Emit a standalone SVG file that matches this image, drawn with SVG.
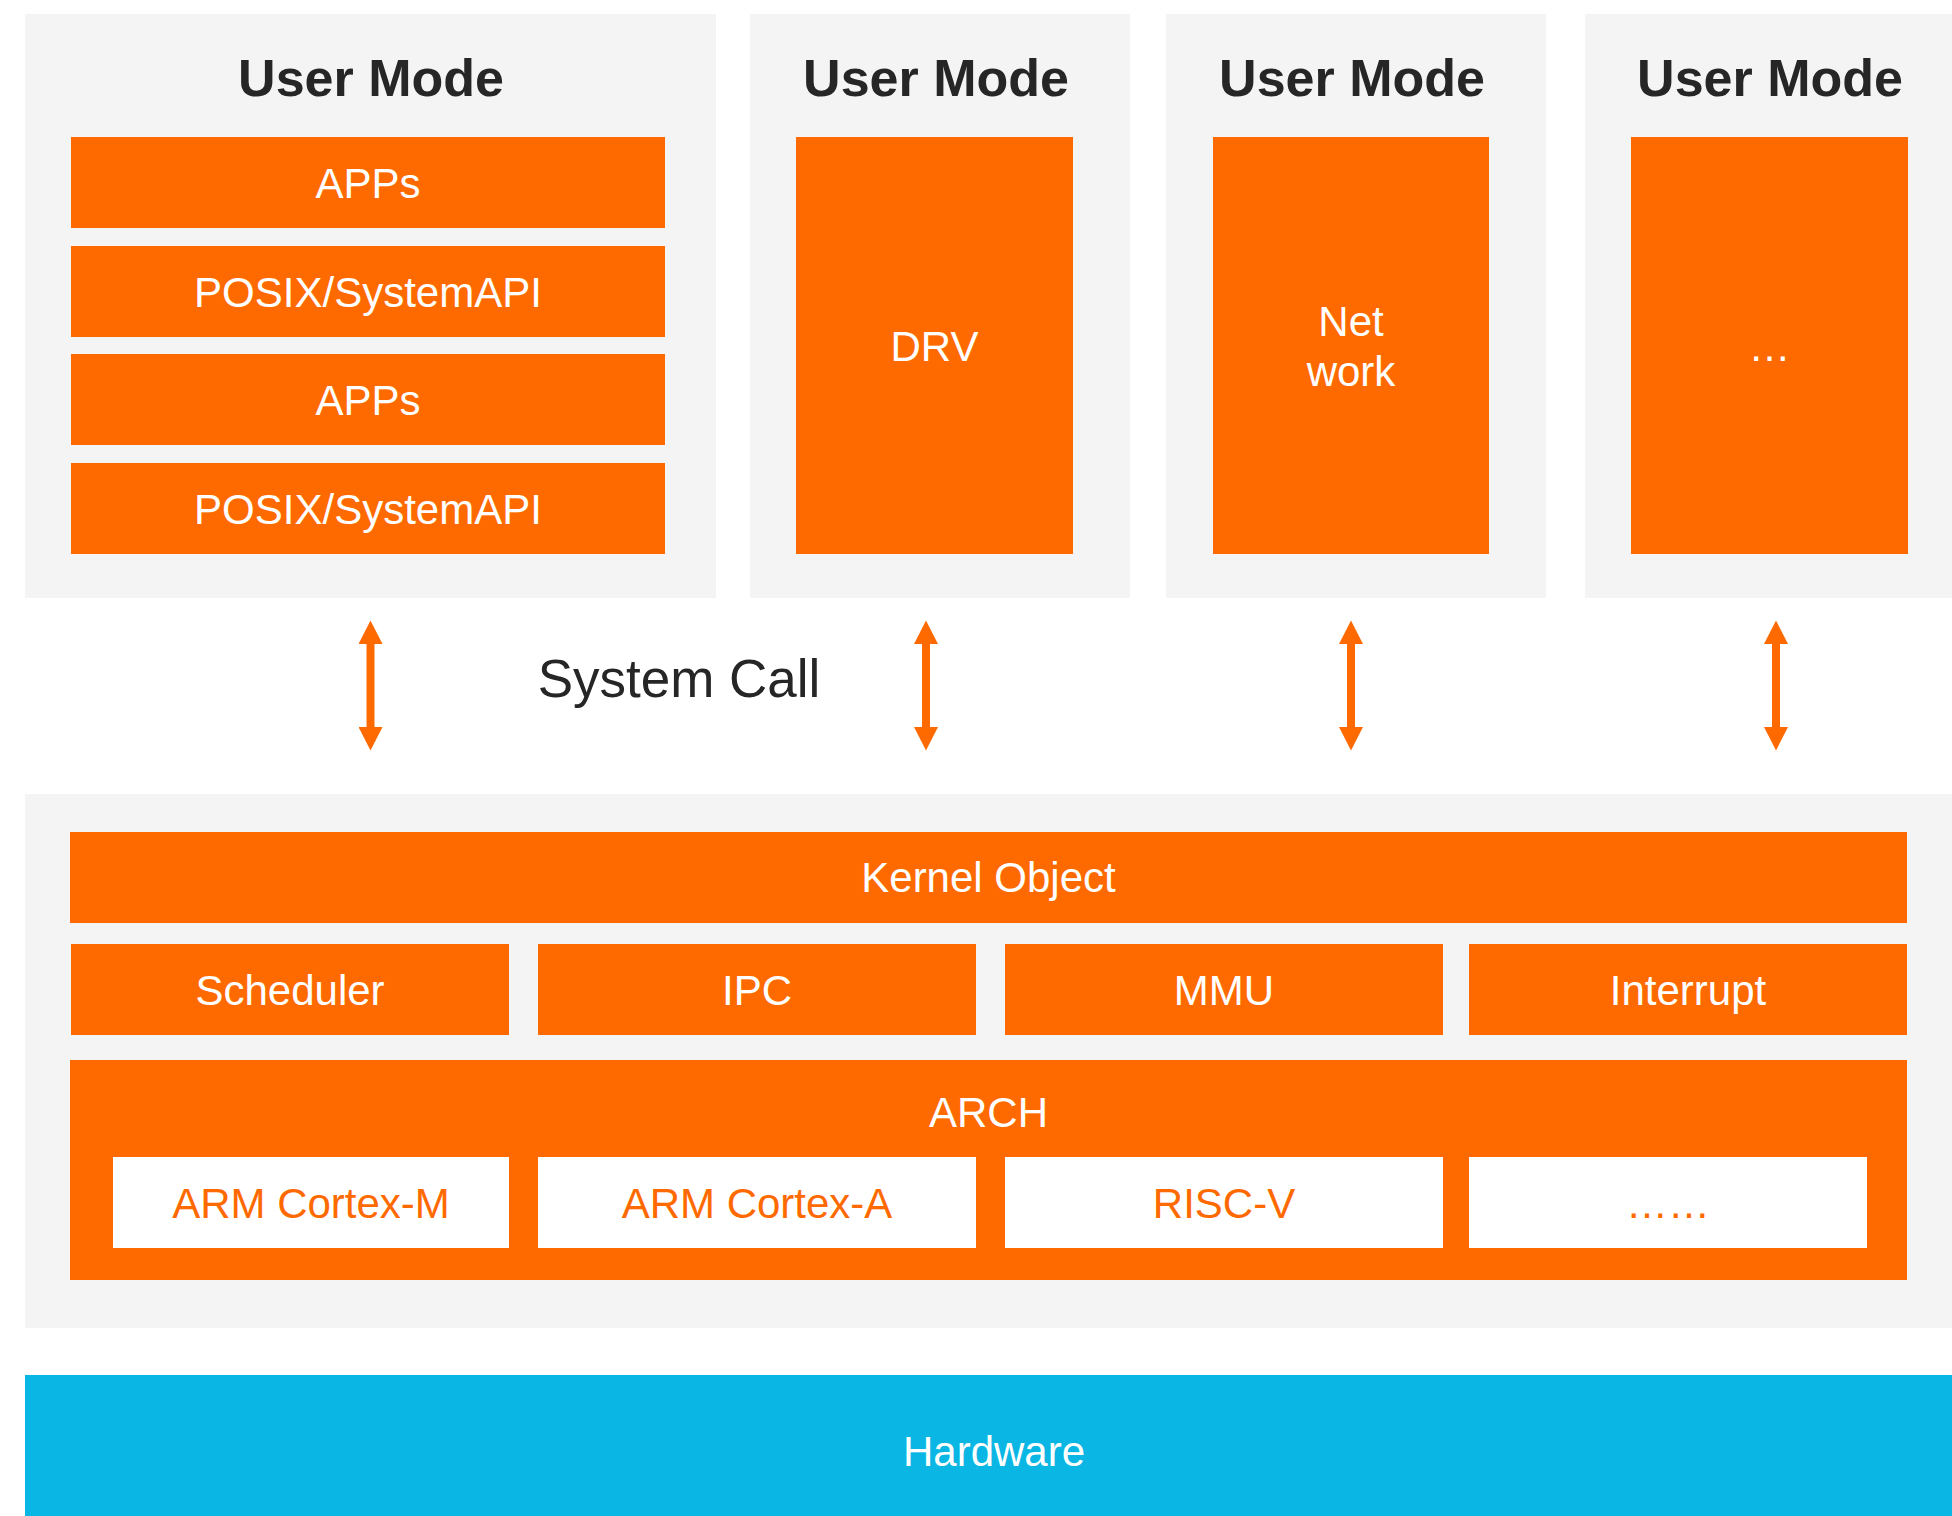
<svg xmlns="http://www.w3.org/2000/svg" width="1952" height="1516" viewBox="0 0 1952 1516">
<defs>
<style>
.panel{fill:#F4F4F4}
.box{fill:#FF6A00}
.wbox{fill:#FFFFFF}
.title{font-family:"Liberation Sans",Arial,sans-serif;font-size:52px;font-weight:bold;fill:#262626;text-anchor:middle}
.lbl{font-family:"Liberation Sans",Arial,sans-serif;font-size:42px;fill:#FFFFFF;text-anchor:middle}
.olbl{font-family:"Liberation Sans",Arial,sans-serif;font-size:42px;fill:#FF6A00;text-anchor:middle}
.dark{font-family:"Liberation Sans",Arial,sans-serif;font-size:53px;fill:#262626;text-anchor:middle}
.conn{stroke:#FF6A00;stroke-width:8;fill:none;marker-start:url(#head);marker-end:url(#head)}
</style>
<marker id="head" markerUnits="userSpaceOnUse" markerWidth="24" markerHeight="24" refX="0" refY="12" orient="auto-start-reverse" viewBox="0 0 24 24">
<path d="M0,0 L23.5,12 L0,24 z" fill="#FF6A00"/>
</marker>
</defs>
<rect width="1952" height="1516" fill="#FFFFFF"/>

<g id="user-mode-1">
<rect class="panel" x="25" y="14" width="691" height="584"/>
<text class="title" x="371" y="96">User Mode</text>
<rect class="box" x="71" y="137" width="594" height="91"/>
<text class="lbl" x="368" y="198">APPs</text>
<rect class="box" x="71" y="246" width="594" height="91"/>
<text class="lbl" x="368" y="307">POSIX/SystemAPI</text>
<rect class="box" x="71" y="354" width="594" height="91"/>
<text class="lbl" x="368" y="415">APPs</text>
<rect class="box" x="71" y="463" width="594" height="91"/>
<text class="lbl" x="368" y="524">POSIX/SystemAPI</text>
</g>

<g id="user-mode-2">
<rect class="panel" x="750" y="14" width="380" height="584"/>
<text class="title" x="936" y="96">User Mode</text>
<rect class="box" x="796" y="137" width="277" height="417"/>
<text class="lbl" x="934.5" y="361">DRV</text>
</g>

<g id="user-mode-3">
<rect class="panel" x="1166" y="14" width="380" height="584"/>
<text class="title" x="1352" y="96">User Mode</text>
<rect class="box" x="1213" y="137" width="276" height="417"/>
<text class="lbl" x="1351" y="336">Net</text>
<text class="lbl" x="1351" y="386">work</text>
</g>

<g id="user-mode-4">
<rect class="panel" x="1585" y="14" width="367" height="584"/>
<text class="title" x="1770" y="96">User Mode</text>
<rect class="box" x="1631" y="137" width="277" height="417"/>
<text class="lbl" x="1769.5" y="361">…</text>
</g>

<g id="system-call-label">
<text class="dark" x="679" y="697">System Call</text>
</g>

<g id="kernel">
<rect class="panel" x="25" y="794" width="1927" height="534"/>
<g id="kernel-object">
<rect class="box" x="70" y="832" width="1837" height="91"/>
<text class="lbl" x="988.5" y="892">Kernel Object</text>
</g>
<g id="scheduler">
<rect class="box" x="71" y="944" width="438" height="91"/>
<text class="lbl" x="290" y="1005">Scheduler</text>
</g>
<g id="ipc">
<rect class="box" x="538" y="944" width="438" height="91"/>
<text class="lbl" x="757" y="1005">IPC</text>
</g>
<g id="mmu">
<rect class="box" x="1005" y="944" width="438" height="91"/>
<text class="lbl" x="1224" y="1005">MMU</text>
</g>
<g id="interrupt">
<rect class="box" x="1469" y="944" width="438" height="91"/>
<text class="lbl" x="1688" y="1005">Interrupt</text>
</g>
<g id="arch">
<rect class="box" x="70" y="1060" width="1837" height="220"/>
<text class="lbl" x="988.5" y="1127">ARCH</text>
<g id="arm-cortex-m">
<rect class="wbox" x="113" y="1157" width="396" height="91"/>
<text class="olbl" x="311" y="1218">ARM Cortex-M</text>
</g>
<g id="arm-cortex-a">
<rect class="wbox" x="538" y="1157" width="438" height="91"/>
<text class="olbl" x="757" y="1218">ARM Cortex-A</text>
</g>
<g id="risc-v">
<rect class="wbox" x="1005" y="1157" width="438" height="91"/>
<text class="olbl" x="1224" y="1218">RISC-V</text>
</g>
<g id="arch-more">
<rect class="wbox" x="1469" y="1157" width="398" height="91"/>
<text class="olbl" x="1668" y="1218">……</text>
</g>
</g>
</g>

<g id="hardware">
<rect x="25" y="1375" width="1927" height="141" fill="#0AB6E4"/>
<text class="lbl" x="994" y="1466">Hardware</text>
</g>

<g id="connectors">
<line class="conn" x1="370.5" y1="644" x2="370.5" y2="727"/>
<line class="conn" x1="926" y1="644" x2="926" y2="727"/>
<line class="conn" x1="1351" y1="644" x2="1351" y2="727"/>
<line class="conn" x1="1776" y1="644" x2="1776" y2="727"/>
</g>
</svg>
